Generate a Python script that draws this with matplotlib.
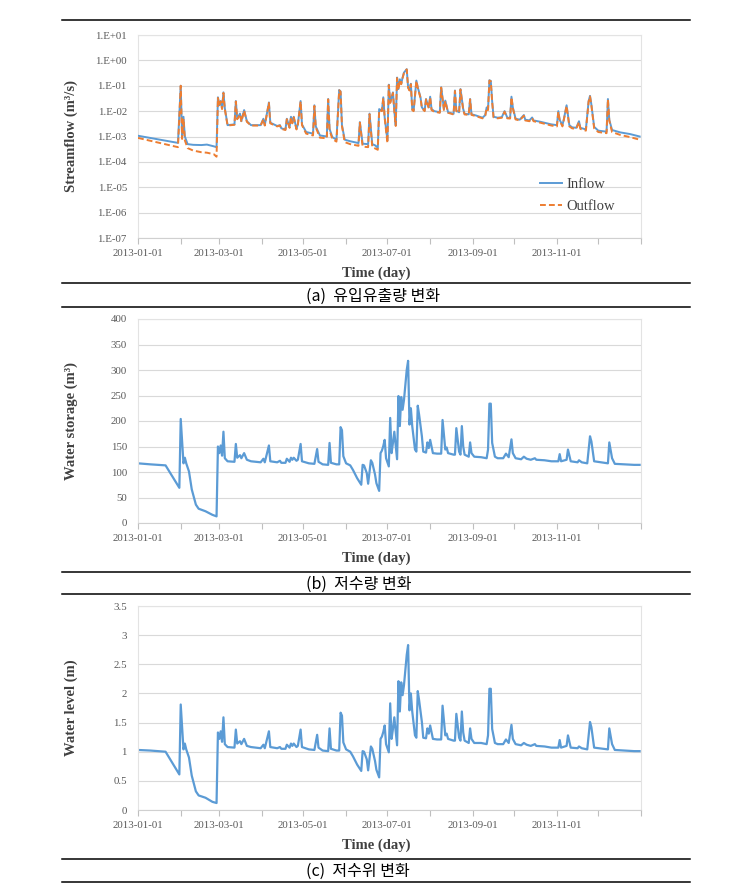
import numpy as np
import matplotlib
matplotlib.use("Agg")
import matplotlib.pyplot as plt
import matplotlib.dates as mdates
from matplotlib.lines import Line2D
from matplotlib.ticker import FixedLocator, FuncFormatter

# ---------------- data ----------------
start_date = np.datetime64("2013-01-01")

# Streamflow (m3/s): day offset from 2013-01-01, inflow, outflow
flow_days = [0, 29, 31, 32, 33, 34, 36, 40, 46, 50, 55, 57, 58, 59, 60, 61, 62, 63, 65, 70,
             71, 72, 74, 75, 77, 79, 82, 89, 91, 92, 95, 96, 101, 103, 104, 107, 108, 110, 111, 112,
             113, 115, 116, 118, 119, 122, 127, 128, 129, 132, 137, 138, 139, 141, 144, 146, 147, 148, 150, 154,
             160, 161, 163, 167, 168, 170, 172, 174, 175, 177, 178, 179, 181, 182, 183, 185, 186, 187, 188, 189,
             190, 191, 192, 193, 195, 196, 197, 198, 199, 200, 202, 203, 205, 206, 208, 209, 211, 212, 213, 215,
             219, 220, 222, 223, 225, 229, 230, 231, 233, 234, 236, 237, 240, 241, 242, 245, 250, 252, 253, 254,
             255, 256, 257, 258, 261, 264, 266, 268, 270, 271, 272, 274, 277, 280, 281, 284, 286, 287, 292, 300,
             304, 305, 306, 308, 309, 311, 313, 315, 318, 320, 321, 325, 327, 328, 329, 331, 334, 340, 341, 342,
             344, 350, 357, 364]
inflow = [1.07e-3, 5.6e-4, 0.1, 1.0e-3, 6e-3, 1.0e-3, 5e-4, 4.7e-4, 4.6e-4, 4.8e-4, 4.1e-4, 3.8e-4, 0.035, 0.017, 0.025, 0.013, 0.055, 0.013, 2.8e-3, 3.0e-3,
          0.025, 5e-3, 8e-3, 4e-3, 0.011, 4e-3, 2.8e-3, 2.8e-3, 5e-3, 2.8e-3, 0.022, 3.5e-3, 2.6e-3, 2.8e-3, 2.1e-3, 1.9e-3, 5e-3, 2.3e-3, 6e-3, 3.5e-3,
          6e-3, 2e-3, 3e-3, 0.025, 3e-3, 1.5e-3, 1.3e-3, 0.017, 2.5e-3, 1.1e-3, 1.0e-3, 0.03, 2.0e-3, 9.5e-4, 7.5e-4, 0.068, 0.06, 2.8e-3, 7.5e-4, 6.5e-4,
          5.5e-4, 3.7e-3, 5.2e-4, 5e-4, 8e-3, 5e-4, 4.5e-4, 3.6e-4, 0.012, 0.0105, 0.035, 5.7e-3, 7e-4, 0.11, 0.022, 0.055, 0.0105, 2.8e-3, 0.21, 0.074,
          0.18, 0.12, 0.21, 0.33, 0.45, 0.087, 0.068, 0.12, 0.012, 0.0105, 0.16, 0.087, 0.035, 0.014, 0.0105, 0.03, 0.014, 0.037, 0.012, 0.01,
          9e-3, 0.087, 0.012, 0.026, 9e-3, 7.8e-3, 0.065, 0.0105, 9e-3, 0.074, 0.012, 7.8e-3, 7.5e-3, 0.03, 7.5e-3, 6.8e-3, 5.5e-3, 7e-3, 0.014, 0.012,
          0.165, 0.155, 0.024, 6e-3, 5.5e-3, 5.8e-3, 0.01, 5.5e-3, 5.4e-3, 0.037, 0.014, 5e-3, 4.6e-3, 7e-3, 4.6e-3, 4.3e-3, 5.6e-3, 4.3e-3, 3.8e-3, 3.0e-3,
          2.8e-3, 0.01, 4.5e-3, 2.8e-3, 4.8e-3, 0.017, 2.8e-3, 2.3e-3, 2.2e-3, 4e-3, 2.2e-3, 1.9e-3, 0.025, 0.04, 0.018, 2.4e-3, 1.7e-3, 1.55e-3, 0.03, 4.5e-3,
          1.8e-3, 1.45e-3, 1.25e-3, 1.0e-3]
outflow = [8.8e-4, 3.8e-4, 0.1, 8e-4, 5e-3, 7e-4, 3.5e-4, 2.8e-4, 2.4e-4, 2.3e-4, 2.0e-4, 1.6e-4, 0.033, 0.016, 0.024, 0.012, 0.052, 0.012, 2.7e-3, 2.9e-3,
           0.024, 4.8e-3, 7.5e-3, 3.8e-3, 0.0105, 3.8e-3, 2.7e-3, 2.7e-3, 4.8e-3, 2.7e-3, 0.021, 3.3e-3, 2.5e-3, 2.7e-3, 2.0e-3, 1.8e-3, 4.8e-3, 2.2e-3, 5.7e-3, 3.3e-3,
           5.7e-3, 1.9e-3, 2.9e-3, 0.024, 2.8e-3, 1.3e-3, 1.1e-3, 0.016, 2.3e-3, 9e-4, 8.5e-4, 0.029, 1.8e-3, 8e-4, 6.3e-4, 0.066, 0.058, 2.6e-3, 6e-4, 5e-4,
           4.3e-4, 3.5e-3, 4e-4, 3.8e-4, 7.5e-3, 3.8e-4, 3.4e-4, 3e-4, 0.011, 0.01, 0.033, 5.3e-3, 5.5e-4, 0.105, 0.021, 0.052, 0.01, 2.6e-3, 0.2, 0.07,
           0.17, 0.115, 0.2, 0.32, 0.44, 0.083, 0.065, 0.115, 0.011, 0.01, 0.155, 0.083, 0.033, 0.013, 0.01, 0.029, 0.013, 0.035, 0.011, 0.0095,
           8.6e-3, 0.084, 0.011, 0.025, 8.6e-3, 7.4e-3, 0.062, 0.01, 8.6e-3, 0.071, 0.011, 7.4e-3, 7.1e-3, 0.029, 7.1e-3, 6.4e-3, 5.2e-3, 6.7e-3, 0.013, 0.011,
           0.16, 0.15, 0.023, 5.7e-3, 5.2e-3, 5.5e-3, 9.5e-3, 5.2e-3, 5.1e-3, 0.035, 0.013, 4.7e-3, 4.3e-3, 6.6e-3, 4.3e-3, 4.0e-3, 5.3e-3, 4.0e-3, 3.5e-3, 2.7e-3,
           2.5e-3, 9.5e-3, 4.2e-3, 2.5e-3, 4.5e-3, 0.016, 2.5e-3, 2.1e-3, 2.0e-3, 3.7e-3, 2.0e-3, 1.7e-3, 0.024, 0.038, 0.017, 2.1e-3, 1.5e-3, 1.35e-3, 0.029, 4.2e-3,
           1.5e-3, 1.15e-3, 9.5e-4, 7.5e-4]

# Water storage (m3) and water level (m)
res_days = [0, 9, 20, 30, 31, 33, 34, 35, 37, 39, 42, 44, 49, 54, 57, 58, 59, 60, 61, 62,
            63, 65, 70, 71, 72, 74, 75, 77, 79, 82, 89, 91, 92, 95, 96, 101, 103, 104, 107, 108,
            110, 111, 112, 113, 115, 116, 118, 119, 124, 128, 130, 131, 134, 138, 139, 140, 144, 146, 147, 148,
            149, 151, 154, 156, 159, 162, 163, 164, 166, 167, 169, 170, 172, 173, 175, 176, 177, 178, 179, 180,
            182, 183, 184, 185, 186, 188, 189, 190, 191, 192, 193, 195, 196, 197, 198, 199, 201, 202, 203, 204,
            206, 207, 209, 210, 211, 212, 214, 217, 220, 221, 223, 224, 225, 229, 230, 231, 233, 234, 235, 236,
            237, 240, 241, 242, 244, 249, 253, 254, 255, 256, 257, 259, 261, 265, 267, 269, 271, 272, 274, 278,
            280, 282, 285, 288, 289, 295, 300, 305, 306, 307, 311, 312, 314, 319, 320, 322, 326, 328, 329, 331,
            341, 342, 344, 346, 353, 360, 364]
storage = [117, 115, 113, 69, 204, 117, 128, 117, 101, 66, 36, 28, 23, 16, 13, 150, 137, 152, 132, 179,
           127, 121, 120, 155, 128, 133, 127, 137, 124, 121, 119, 126, 119, 152, 121, 119, 122, 118, 118, 126,
           120, 128, 124, 128, 122, 124, 155, 121, 117, 116, 145, 120, 115, 114, 157, 118, 115, 115, 188, 182,
           131, 117, 113, 104, 88, 75, 114, 113, 98, 77, 123, 118, 95, 78, 63, 137, 142, 151, 163, 127,
           111, 206, 137, 157, 179, 125, 249, 190, 247, 222, 241, 300, 318, 193, 225, 190, 144, 140, 230, 212,
           170, 140, 138, 158, 147, 163, 137, 136, 136, 202, 144, 148, 137, 134, 134, 186, 140, 134, 190, 150,
           134, 130, 158, 137, 130, 129, 127, 144, 234, 234, 157, 130, 127, 127, 136, 129, 164, 137, 127, 125,
           130, 126, 124, 127, 124, 123, 121, 121, 135, 121, 124, 144, 121, 119, 123, 119, 117, 170, 160, 121,
           117, 158, 127, 116, 115, 114, 114]
level = [1.03, 1.02, 1.00, 0.61, 1.81, 1.04, 1.14, 1.04, 0.90, 0.59, 0.32, 0.25, 0.21, 0.14, 0.12, 1.33, 1.22, 1.35, 1.17, 1.59,
         1.13, 1.08, 1.07, 1.38, 1.14, 1.18, 1.13, 1.22, 1.10, 1.08, 1.06, 1.12, 1.06, 1.35, 1.08, 1.06, 1.08, 1.05, 1.05, 1.12,
         1.07, 1.14, 1.10, 1.14, 1.08, 1.10, 1.38, 1.08, 1.04, 1.03, 1.29, 1.07, 1.02, 1.01, 1.40, 1.05, 1.02, 1.02, 1.67, 1.62,
         1.16, 1.04, 1.00, 0.92, 0.78, 0.67, 1.01, 1.00, 0.87, 0.68, 1.09, 1.05, 0.84, 0.69, 0.56, 1.22, 1.26, 1.34, 1.45, 1.13,
         0.99, 1.83, 1.22, 1.39, 1.59, 1.11, 2.21, 1.69, 2.19, 1.97, 2.14, 2.66, 2.83, 1.71, 2.00, 1.69, 1.28, 1.24, 2.04, 1.88,
         1.51, 1.24, 1.23, 1.40, 1.31, 1.45, 1.22, 1.21, 1.21, 1.79, 1.28, 1.31, 1.22, 1.19, 1.19, 1.65, 1.24, 1.19, 1.69, 1.33,
         1.19, 1.15, 1.40, 1.22, 1.15, 1.15, 1.13, 1.28, 2.08, 2.08, 1.39, 1.15, 1.13, 1.13, 1.21, 1.15, 1.46, 1.22, 1.13, 1.11,
         1.15, 1.12, 1.10, 1.13, 1.10, 1.09, 1.07, 1.07, 1.20, 1.07, 1.10, 1.28, 1.07, 1.06, 1.09, 1.06, 1.04, 1.51, 1.42, 1.07,
         1.04, 1.40, 1.13, 1.03, 1.02, 1.01, 1.01]

xtick_labels = ["2013-01-01", "2013-03-01", "2013-05-01", "2013-07-01", "2013-09-01", "2013-11-01"]
captions = ["(a)  유입유출량 변화", "(b)  저수량 변화", "(c)  저수위 변화"]
ylabels = ["Streamflow (m\u00b3/s)", "Water storage (m\u00b3)", "Water level (m)"]
xlabel = "Time (day)"
legend_labels = ["Inflow", "Outflow"]

# ---------------- style ----------------
plt.rcParams["font.family"] = ["Liberation Serif", "DejaVu Serif"]
BLUE = "#5B9BD5"
ORANGE = "#ED7D31"
GRID = "#D9D9D9"
TICKC = "#595959"

W, H = 737, 885
fig = plt.figure(figsize=(W / 100, H / 100), dpi=100)


def rect(left, top, right, bottom):
    return [left / W, 1 - bottom / H, (right - left) / W, (bottom - top) / H]


flow_dates = start_date + np.array(flow_days, dtype="timedelta64[D]")
res_dates = start_date + np.array(res_days, dtype="timedelta64[D]")
xmin = mdates.date2num(np.datetime64("2013-01-01"))
xmax = mdates.date2num(np.datetime64("2014-01-01"))
major_pos = [mdates.date2num(np.datetime64(s)) for s in xtick_labels]


def style_axes(ax, ylab):
    ax.set_xlim(xmin, xmax)
    ax.set_xticks(major_pos)
    ax.set_xticklabels(xtick_labels)
    ax.xaxis.set_minor_locator(mdates.MonthLocator())
    ax.tick_params(axis="x", which="both", direction="out", length=4, width=0.8,
                   color="#BFBFBF", labelsize=7.8, labelcolor=TICKC, pad=4)
    ax.tick_params(axis="y", which="both", length=0, labelsize=7.8, labelcolor=TICKC, pad=8)
    ax.grid(axis="y", color=GRID, linewidth=0.8)
    ax.set_axisbelow(True)
    for s in ax.spines.values():
        s.set_color("#E3E3E3")
        s.set_linewidth(0.8)
    ax.spines["bottom"].set_color("#D0D0D0")
    ax.set_ylabel(ylab, fontsize=10.5, fontweight="bold", color="#404040")
    ax.yaxis.set_label_coords(-0.119, 0.5)
    ax.set_xlabel(xlabel, fontsize=10.5, fontweight="bold", color="#404040")
    ax.xaxis.set_label_coords(0.473, -0.172)
    ax.xaxis.label.set_va("center")


# Panel (a)
ax1 = fig.add_axes(rect(138, 35, 641, 238))
ax1.plot(flow_dates, inflow, color=BLUE, lw=1.4, label=legend_labels[0], zorder=3)
ax1.plot(flow_dates, outflow, color=ORANGE, lw=1.4, ls=(0, (3, 1.6)), label=legend_labels[1], zorder=4)
ax1.set_yscale("log")
ax1.set_ylim(1e-7, 10)
ax1.set_yticks([10.0 ** e for e in range(-7, 2)])
ax1.yaxis.set_major_formatter(FuncFormatter(lambda v, p: "1.E{:+03d}".format(int(round(np.log10(v))))))
ax1.yaxis.set_minor_locator(FixedLocator([]))
style_axes(ax1, ylabels[0])
leg = ax1.legend(loc="lower right", bbox_to_anchor=(0.975, 0.06), frameon=False, fontsize=10.5,
                 handlelength=1.5, handletextpad=0.3, labelspacing=0.55)
for t in leg.get_texts():
    t.set_color("#404040")

# Panel (b)
ax2 = fig.add_axes(rect(138, 319, 641, 523))
ax2.plot(res_dates, storage, color=BLUE, lw=1.6)
ax2.set_ylim(0, 400)
ax2.set_yticks(np.arange(0, 401, 50))
style_axes(ax2, ylabels[1])

# Panel (c)
ax3 = fig.add_axes(rect(138, 606, 641, 810))
ax3.plot(res_dates, level, color=BLUE, lw=1.6)
ax3.set_ylim(0, 3.5)
ax3.set_yticks(np.arange(0, 3.51, 0.5))
ax3.yaxis.set_major_formatter(FuncFormatter(lambda v, p: "{:g}".format(round(v, 2))))
style_axes(ax3, ylabels[2])

# Rules and captions
for yy in [20, 283, 307, 572, 594, 859, 882]:
    fig.add_artist(Line2D([62 / W, 690 / W], [1 - yy / H, 1 - yy / H], color="black", lw=1.1))

for cap, yy in zip(captions, [296, 584, 871]):
    fig.text(306 / W, 1 - yy / H, cap, ha="left", va="center", fontsize=11.5,
             family=["Noto Sans CJK KR", "DejaVu Sans"], color="black")

fig.savefig("out.png", dpi=100, facecolor="white")
